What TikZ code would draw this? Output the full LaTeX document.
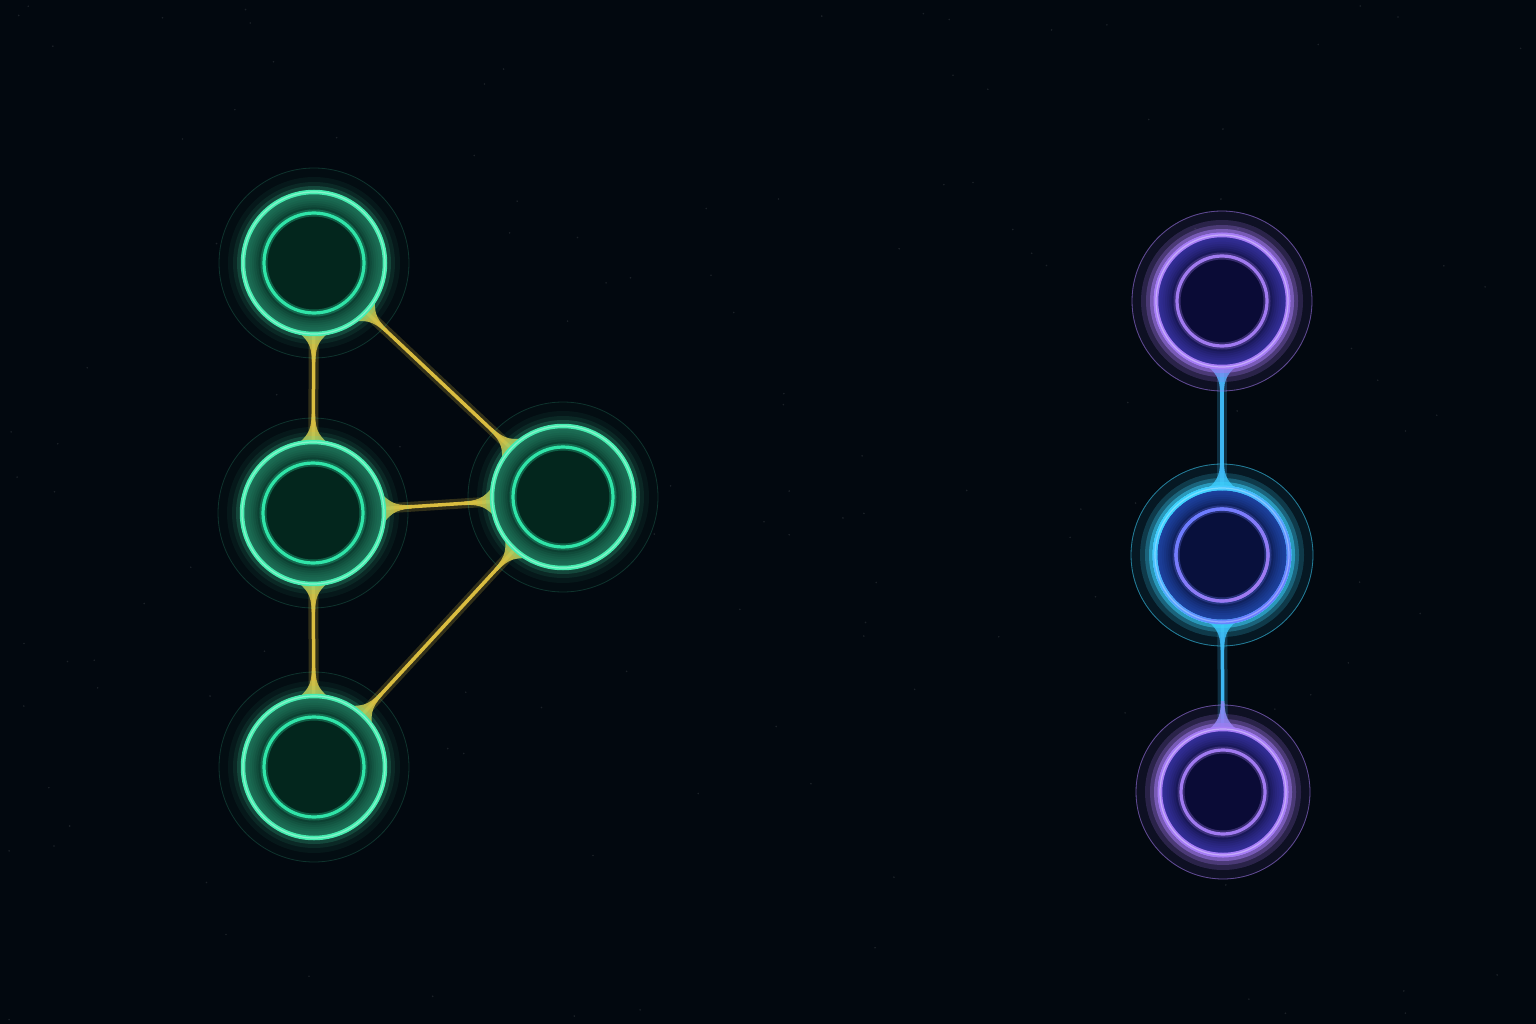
\documentclass[tikz,border=0pt]{standalone}
\usepackage{tikz}
\definecolor{bg}{HTML}{02080F}
\definecolor{gring}{HTML}{46EDB0}
\definecolor{ginner}{HTML}{30E4A8}
\definecolor{gband}{HTML}{2A8E70}
\definecolor{gcore}{HTML}{03261D}
\definecolor{pring}{HTML}{A77EF7}
\definecolor{pinner}{HTML}{A07AF0}
\definecolor{pband}{HTML}{4640C0}
\definecolor{pcore}{HTML}{0A0B36}
\definecolor{bcyan}{HTML}{3FD4FF}
\definecolor{bblue}{HTML}{6C7CFF}
\definecolor{bband}{HTML}{2858C8}
\definecolor{bcore}{HTML}{08103C}
\definecolor{ye}{HTML}{DABD40}
\definecolor{cy}{HTML}{3DB6F2}

% ring of one node: name, outer radius, ring, inner ring, band, core
\newcommand\glowring[6]{%
  \fill[#3,opacity=.025] (#1.center) circle (#2+24);
  \draw[#3,opacity=.18,line width=.8] (#1.center) circle (#2+24);
  \foreach \lw/\op in {30/.05,20/.08,12/.16}
    \draw[#3,opacity=\op,line width=\lw] (#1.center) circle (#2);
  \fill[#6] (#1.center) circle (#2);
  \begin{scope}
    \clip (#1.center) circle (#2);
    \foreach \k in {1,...,9}
      \draw[#5,opacity=.14,line width={\k*4.4pt}] (#1.center) circle (#2);
  \end{scope}
  \draw[#4,opacity=.3,line width=7] (#1.center) circle (#2-21);
  \draw[#4,line width=3.2] (#1.center) circle (#2-21);
  \draw[#3,line width=4.5] (#1.center) circle (#2);
  \draw[white,opacity=.35,line width=1.2] (#1.center) circle (#2);
}

% widening of a link where it meets a node
\newcommand\flare[4]{%
  \pgfmathanglebetweenpoints{\pgfpointanchor{#1}{center}}{\pgfpointanchor{#2}{center}}
  \let\ang\pgfmathresult
  \fill[#4,opacity=.9,shift={(#1.center)},rotate=\ang] (#3-6,-20) .. controls (#3+6,-6) and (#3+10,-2) .. (#3+28,-1.8)
    -- (#3+28,1.8) .. controls (#3+10,2) and (#3+6,6) .. (#3-6,20) -- cycle;
}

\begin{document}
\begin{tikzpicture}[x=1pt,y=-1pt,
  spot/.style={circle,inner sep=0pt,minimum size=#1},
  link/.style={draw=#1,line width=3.5,preaction={draw=#1,opacity=.22,line width=10}}]

\fill[bg] (0,0) rectangle (1536,1024);
\useasboundingbox (0,0) rectangle (1536,1024);

% specks
\pgfmathsetseed{11}
\foreach \i in {1,...,140}
  \fill[white,opacity=.1] ({rnd*1536},{rnd*1024}) circle (.9);

% haze
\foreach \k in {1,...,24} {
  \fill[gring,opacity=.005] (430,515) circle (\k*14);
  \fill[bblue,opacity=.005] (1222,550) circle (\k*12);
}

\foreach \n/\x/\y/\r in {gt/314/263/71, gm/313/513/71, gr/563/497/71, gb/314/767/71,
                          pt/1222/301/66, bm/1222/555/67, pb/1223/792/63}
  \node [spot=2*\r] (\n) at (\x,\y) {};

% links
\foreach \a/\b in {gt/gm, gt/gr, gm/gr, gm/gb, gb/gr}{
  \draw[link=ye] (\a) -- (\b);
  \flare{\a}{\b}{71}{ye}
  \flare{\b}{\a}{71}{ye}
}
\draw[link=cy] (pt) -- (bm);
\draw[link=cy] (bm) -- (pb);
\flare{pt}{bm}{66}{cy}
\flare{bm}{pt}{67}{cy}
\flare{bm}{pb}{67}{cy}
\flare{pb}{bm}{63}{pinner!70!cy}

% nodes
\foreach \n in {gt,gm,gr,gb}
  \glowring{\n}{71}{gring}{ginner}{gband}{gcore}
\glowring{pt}{66}{pring}{pinner}{pband}{pcore}
\glowring{pb}{63}{pring}{pinner}{pband}{pcore}
\glowring{bm}{67}{bcyan}{bblue}{bband}{bcore}
\foreach \a in {0,10,...,350}{
  \pgfmathtruncatemacro\p{50+50*cos(\a-225)}
  \draw[bcyan!\p!bblue,line width=4.5] (bm.center) ++(\a:67) arc[start angle=\a,delta angle=10.5,radius=67];
  \draw[bblue!\p!pinner,line width=3.2] (bm.center) ++(\a:46) arc[start angle=\a,delta angle=10.5,radius=46];
}
\draw[white,opacity=.3,line width=1.2] (bm.center) circle (67);

\end{tikzpicture}
\end{document}
